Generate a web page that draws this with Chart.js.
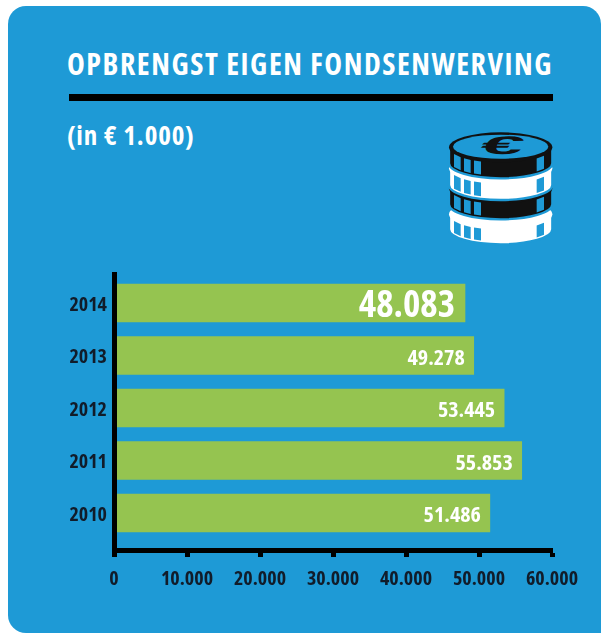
<!DOCTYPE html>
<html>
<head>
<meta charset="utf-8">
<script src="https://cdn.jsdelivr.net/npm/chart.js@4"></script>
<style>
  html, body { margin: 0; padding: 0; background: #fff; }
  #page { position: relative; width: 601px; height: 633px; overflow: hidden; }
  #panel { position: absolute; left: 8px; top: 6px; width: 593px; height: 627px; background: #1e9ad6; border-radius: 18px 18px 0 18px; }
  #title, #sub { position: absolute; color: #fff; font-family: "Open Sans", sans-serif; font-stretch: 75%; font-weight: bold; white-space: nowrap; }
  #title { left: 67px; top: 45px; font-size: 30px; line-height: 38px; letter-spacing: 1.55px; }
  #sub { left: 67px; top: 117px; font-size: 27px; line-height: 36px; letter-spacing: 0.9px; }
  #rule { position: absolute; left: 69px; top: 94px; width: 484px; height: 7px; background: #000; }
  #coins { position: absolute; left: 430px; top: 115px; width: 140px; height: 140px; }
  canvas { position: absolute; left: 0; top: 0; }
</style>
</head>
<body>
<div id="page">
  <div id="panel"></div>
  <div id="title">OPBRENGST EIGEN FONDSENWERVING</div>
  <div id="rule"></div>
  <div id="sub">(in € 1.000)</div>
  <svg id="coins" viewBox="0 0 420 420"></svg>
  <canvas id="chart" width="601" height="633"></canvas>
</div>
<script>
const years = [2014, 2013, 2012, 2011, 2010];
const values = [48083, 49278, 53445, 55853, 51486];
const valueLabels = ['48.083', '49.278', '53.445', '55.853', '51.486'];
const xTicks = [0, 10000, 20000, 30000, 40000, 50000, 60000];

const narrow = '"Open Sans", sans-serif';
const inkColor = '#111c2a';

// labels inside the bar ends, the newest year is drawn bigger
const barLabels = {
  id: 'barLabels',
  afterDatasetsDraw(chart) {
    const ctx = chart.ctx;
    chart.getDatasetMeta(0).data.forEach((bar, i) => {
      ctx.save();
      ctx.fillStyle = '#fff';
      ctx.textAlign = 'right';
      ctx.textBaseline = 'middle';
      ctx.font = (i === 0 ? 'bold condensed 37px ' : 'bold condensed 22px ') + narrow;
      ctx.fillText(valueLabels[i], bar.x - (i === 0 ? 10 : 9), bar.y + 3);
      ctx.restore();
    });
  }
};

new Chart(document.getElementById('chart'), {
  type: 'bar',
  data: {
    datasets: [{
      data: years.map((y, i) => ({ x: values[i], y: y })),
      backgroundColor: '#95c450',
      barThickness: 38
    }]
  },
  options: {
    indexAxis: 'y',
    responsive: false,
    animation: false,
    layout: { padding: { top: 274, right: 49, bottom: 0, left: 0 } },
    plugins: { legend: { display: false }, tooltip: { enabled: false } },
    scales: {
      x: {
        type: 'linear',
        min: 0,
        max: 60000,
        afterBuildTicks(scale) { scale.ticks = xTicks.map(v => ({ value: v })); },
        afterFit(scale) { scale.height = 83; },
        border: { color: '#000', width: 5 },
        grid: { drawOnChartArea: false, drawTicks: true, tickLength: 7, tickWidth: 5, color: '#000' },
        ticks: {
          color: inkColor,
          maxRotation: 0,
          autoSkip: false,
          padding: 10,
          font: { family: narrow, weight: 'bold condensed', size: 20 },
          callback: v => v === 0 ? '0' : (v / 1000) + '.000'
        }
      },
      y: {
        type: 'linear',
        offset: false,
        min: 2009.295,
        max: 2014.552,
        afterBuildTicks(scale) { scale.ticks = years.map(v => ({ value: v })); },
        afterFit(scale) { scale.width = 114; },
        border: { color: '#000', width: 5, z: 1 },
        grid: { drawOnChartArea: false, drawTicks: false },
        ticks: {
          color: inkColor,
          autoSkip: false,
          padding: 7,
          labelOffset: 2,
          font: { family: narrow, weight: 'bold condensed', size: 20 },
          callback: v => String(v)
        }
      }
    }
  },
  plugins: [barLabels]
});

// euro coin stack icon, in the 420 box of the svg
const slots = [[72, 92], [102, 122], [132, 153], [320, 342]];
function coin(top, height, color) {
  let s = '';
  const l = 57, r = 367, rx = 155, ry = 45;
  const arc = x => ry * Math.sqrt(Math.max(0, 1 - Math.pow((x - 212) / rx, 2)));
  s += `<path d="M${l} ${top}V${top + height}A${rx} ${ry} 0 0 0 ${r} ${top + height}V${top}Z" fill="${color}" stroke="#1e9ad6" stroke-width="7"/>`;
  s += `<ellipse cx="212" cy="${top}" rx="${rx}" ry="${ry}" fill="${color}"/>`;
  slots.forEach(([a, b]) => {
    const points = [[a, top + arc(a) + 1], [b, top + arc(b) + 1], [b, top + height + arc(b) - 8], [a, top + height + arc(a) - 8]];
    s += `<polygon points="${points.map(p => p.join(',')).join(' ')}" fill="#1e9ad6"/>`;
  });
  return s;
}
let icon = '';
icon += coin(298, 45, '#fff');
icon += coin(220, 48, '#111');
icon += coin(160, 50, '#fff');
icon += coin(97, 48, '#111');
icon += '<ellipse cx="212" cy="95" rx="143" ry="36" fill="#1e9ad6"/>';
icon += '<text transform="translate(208 116) skewX(-20) scale(3 1)" text-anchor="middle" font-family="Liberation Sans" font-weight="bold" font-size="76" fill="#111">€</text>';
document.getElementById('coins').innerHTML = icon;
</script>
</body>
</html>
